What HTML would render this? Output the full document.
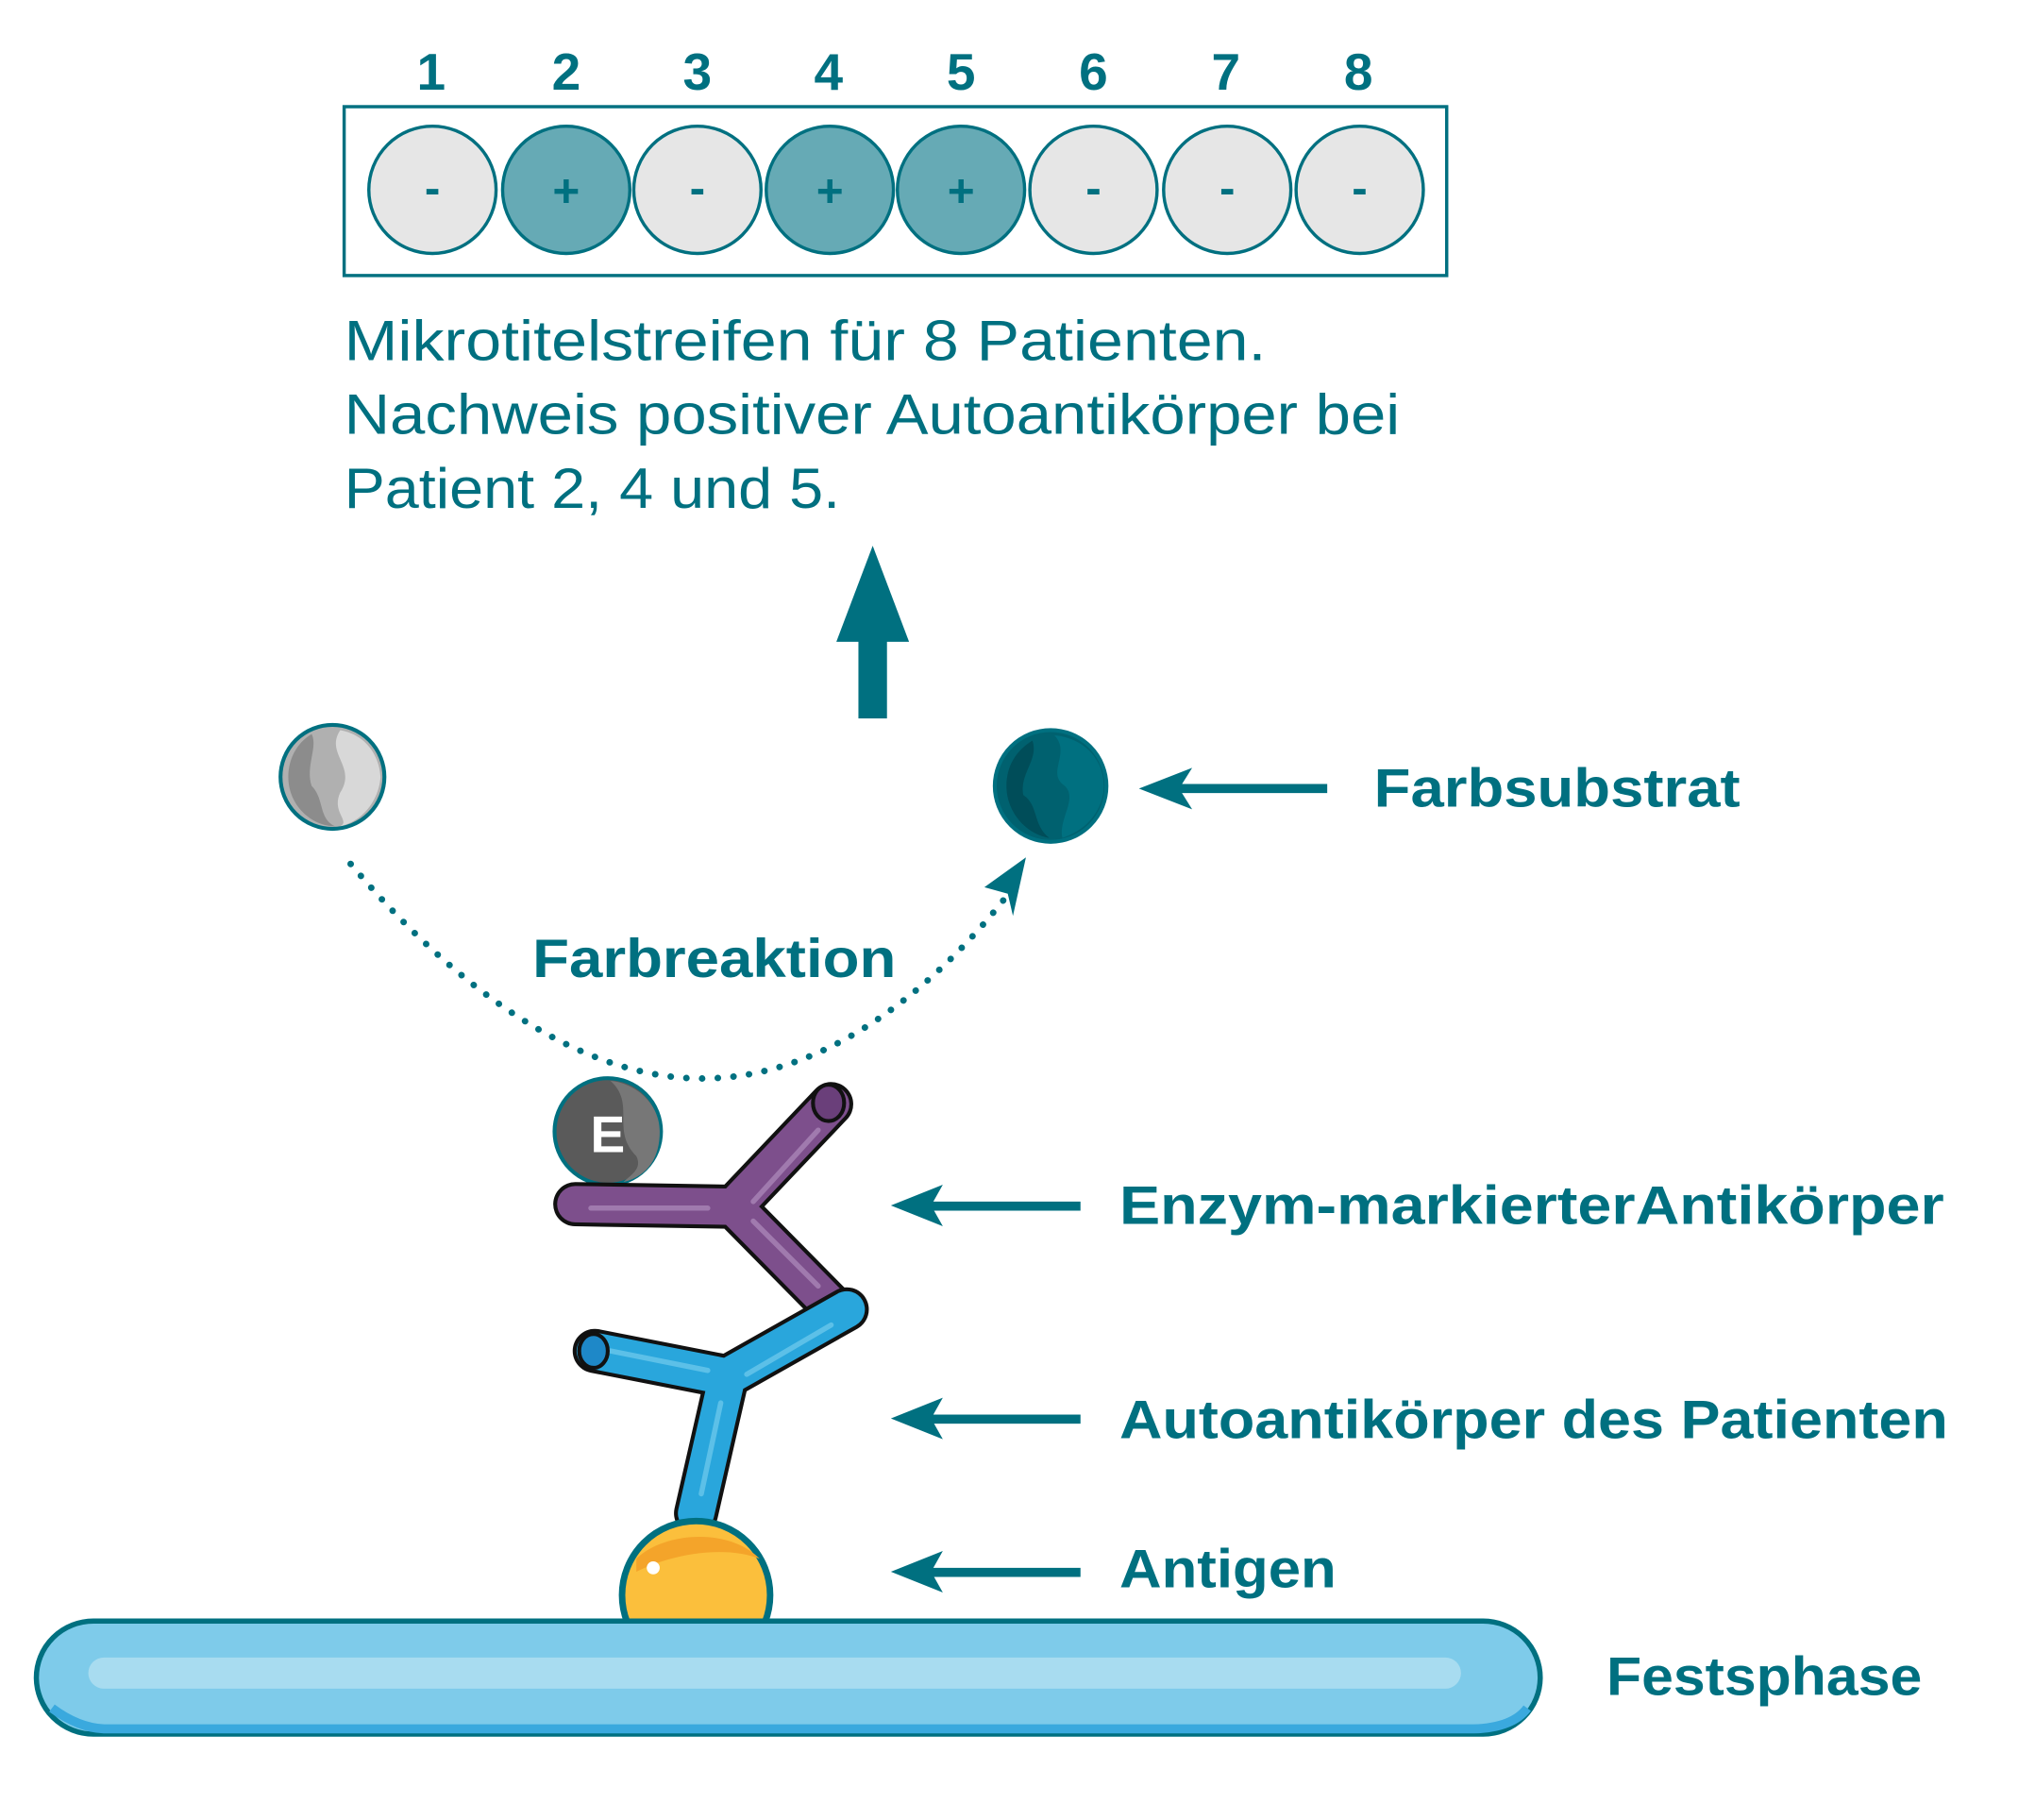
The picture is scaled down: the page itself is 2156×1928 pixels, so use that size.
<!DOCTYPE html>
<html><head><meta charset="utf-8"><style>
html,body{margin:0;padding:0;background:#fff;}
svg{display:block;}
text{font-family:"Liberation Sans",sans-serif;fill:#007080;}
</style></head><body>
<svg width="2156" height="1928" viewBox="0 0 1567 1401" xmlns="http://www.w3.org/2000/svg">
<defs>
<clipPath id="cl"><rect x="0" y="0" width="1560" height="1250"/></clipPath>
</defs>
<g font-weight="bold" font-size="40" text-anchor="middle">
<text x="332" y="69">1</text><text x="436" y="69">2</text><text x="537" y="69">3</text><text x="638" y="69">4</text>
<text x="740" y="69">5</text><text x="842" y="69">6</text><text x="944" y="69">7</text><text x="1046" y="69">8</text>
</g>
<rect x="265" y="82" width="849" height="130" fill="none" stroke="#007080" stroke-width="2.5"/>
<g stroke="#007080" stroke-width="2.5">
<circle cx="333" cy="146" r="49" fill="#e6e6e6"/>
<circle cx="436" cy="146" r="49" fill="#66aab5"/>
<circle cx="537" cy="146" r="49" fill="#e6e6e6"/>
<circle cx="639" cy="146" r="49" fill="#66aab5"/>
<circle cx="740" cy="146" r="49" fill="#66aab5"/>
<circle cx="842" cy="146" r="49" fill="#e6e6e6"/>
<circle cx="945" cy="146" r="49" fill="#e6e6e6"/>
<circle cx="1047" cy="146" r="49" fill="#e6e6e6"/>
</g>
<g font-weight="bold" font-size="36" text-anchor="middle">
<text x="333" y="157">-</text><text x="436" y="159">+</text><text x="537" y="157">-</text><text x="639" y="159">+</text>
<text x="740" y="159">+</text><text x="842" y="157">-</text><text x="945" y="157">-</text><text x="1047" y="157">-</text>
</g>
<g font-size="44">
<text x="265" y="277" textLength="710" lengthAdjust="spacingAndGlyphs">Mikrotitelstreifen für 8 Patienten.</text>
<text x="265" y="334" textLength="813" lengthAdjust="spacingAndGlyphs">Nachweis positiver Autoantikörper bei</text>
<text x="265" y="391" textLength="382" lengthAdjust="spacingAndGlyphs">Patient 2, 4 und 5.</text>
</g>
<rect x="661" y="480" width="22" height="73" fill="#007080"/>
<polygon points="672,420 700,494 644,494" fill="#007080"/>
<circle cx="256" cy="598" r="40" fill="#b0b0b0" stroke="#007080" stroke-width="3"/>
<path d="M262,562 C250,580 275,590 262,610 C255,625 270,632 262,636 C280,632 292,615 293,598 C292,580 280,565 262,562Z" fill="#d8d8d8"/>
<path d="M222,598 C222,620 240,636 258,636 C245,630 250,615 240,605 C235,590 245,575 240,565 C228,572 222,585 222,598Z" fill="#8c8c8c"/>
<circle cx="809" cy="605" r="43" fill="#00616f" stroke="#007080" stroke-width="3"/>
<path d="M812,566 C825,580 805,595 820,605 C830,615 815,630 818,645 C840,638 850,620 850,605 C850,585 835,568 812,566Z" fill="#007080"/>
<path d="M775,605 C775,625 790,642 808,645 C795,635 800,620 788,612 C785,595 800,585 795,570 C782,578 775,590 775,605Z" fill="#004d59"/>
<line x1="1022" y1="607" x2="900" y2="607" stroke="#007080" stroke-width="7"/>
<polygon points="877,607 918,591 908,607 918,623" fill="#007080"/>
<text x="1058" y="621" font-size="42" font-weight="bold" textLength="282" lengthAdjust="spacingAndGlyphs">Farbsubstrat</text>
<path d="M270,665 C350,760 450,835 550,830 C640,826 720,760 775,690" fill="none" stroke="#007080" stroke-width="5" stroke-linecap="round" stroke-dasharray="0.1 12"/>
<polygon points="790,660 780,705 776,688 758,683" fill="#007080"/>
<text x="410" y="752" font-size="42" font-weight="bold" textLength="280" lengthAdjust="spacingAndGlyphs">Farbreaktion</text>
<circle cx="468" cy="871" r="41" fill="#5a5a5a" stroke="#007080" stroke-width="3"/>
<path d="M470,832 C490,850 470,870 490,890 C495,900 485,905 480,910 C500,905 508,890 508,871 C508,850 490,834 470,832Z" fill="#777"/>
<text x="468" y="887" font-size="40" font-weight="bold" text-anchor="middle" style="fill:#fff">E</text>
<g stroke-linecap="round" stroke-linejoin="round" fill="none">
<path d="M443,927 L565,929 L640,850 M565,929 L640,1005" stroke="#111" stroke-width="34"/>
<path d="M443,927 L565,929 L640,850 M565,929 L640,1005" stroke="#7d4f8c" stroke-width="28"/>
<path d="M455,930 L545,930 M580,925 L630,870 M580,940 L630,990" stroke="#a07aae" stroke-width="4"/>
</g>
<ellipse cx="638" cy="849" rx="12" ry="14" fill="#6a3f7a" stroke="#111" stroke-width="3"/>
<g stroke-linecap="round" stroke-linejoin="round" fill="none">
<path d="M458,1040 L560,1060 L652,1008 M560,1060 L536,1165" stroke="#111" stroke-width="34"/>
<path d="M458,1040 L560,1060 L652,1008 M560,1060 L536,1165" stroke="#29a6dc" stroke-width="28"/>
<path d="M470,1040 L545,1055 M575,1058 L640,1020 M555,1080 L540,1150" stroke="#5cc0e8" stroke-width="4"/>
</g>
<ellipse cx="457" cy="1040" rx="11" ry="13" fill="#1e88c8" stroke="#111" stroke-width="3"/>
<g clip-path="url(#cl)">
<circle cx="536" cy="1228" r="57" fill="#fbbf3c" stroke="#007080" stroke-width="5"/>
<path d="M490,1200 C510,1180 560,1175 585,1200 C560,1190 520,1195 490,1210Z" fill="#f4a42a"/>
</g>
<circle cx="503" cy="1207" r="5" fill="#fff"/>
<rect x="28" y="1248" width="1158" height="87" rx="44" fill="#7ecbea" stroke="#007080" stroke-width="4"/>
<rect x="68" y="1276" width="1057" height="24" rx="12" fill="#a8dcf0"/>
<path d="M40,1315 Q60,1330 80,1331 L1135,1331 Q1165,1330 1176,1315" fill="none" stroke="#3aa9de" stroke-width="7"/>
<g fill="#007080">
<rect x="705" y="925" width="127" height="7"/><polygon points="686,928 726,912 717,928 726,944"/>
<rect x="705" y="1089" width="127" height="7"/><polygon points="686,1092 726,1076 717,1092 726,1108"/>
<rect x="705" y="1207" width="127" height="7"/><polygon points="686,1210 726,1194 717,1210 726,1226"/>
</g>
<g font-size="42" font-weight="bold">
<text x="862" y="942" textLength="635" lengthAdjust="spacingAndGlyphs">Enzym-markierterAntikörper</text>
<text x="862" y="1107" textLength="638" lengthAdjust="spacingAndGlyphs">Autoantikörper des Patienten</text>
<text x="862" y="1222" textLength="167" lengthAdjust="spacingAndGlyphs">Antigen</text>
<text x="1237" y="1305" textLength="243" lengthAdjust="spacingAndGlyphs">Festsphase</text>
</g>
</svg>
</body></html>
